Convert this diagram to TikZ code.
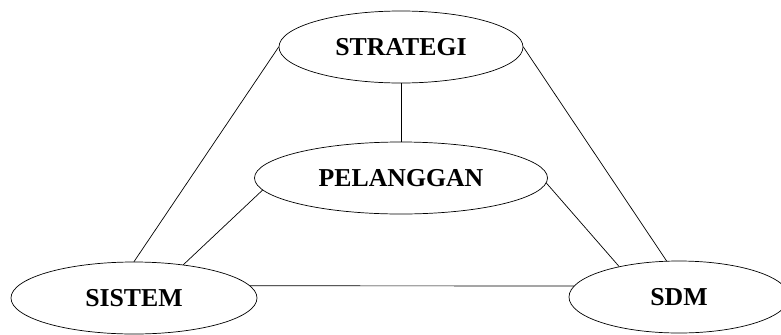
\documentclass[tikz,border=0pt]{standalone}
\usepackage{fontspec}
\setmainfont{Liberation Serif}
\usetikzlibrary{shapes.geometric}

\begin{document}
\begin{tikzpicture}
		[x=0.3mm,y=-0.3mm,line cap=round,
		%Styles
		main node/.style={ellipse,draw,line width=0.6pt,inner sep=0pt,minimum height=21.6mm,
			font=\fontsize{22}{26}\selectfont\bfseries},
		link/.style={line width=0.6pt}
		]
		\useasboundingbox (0,0) rectangle (781,334);
		
		%The graphic
		\node[main node,minimum width=73.2mm] (strategi) at (401, 47) {STRATEGI};
		\node[main node,minimum width=87.9mm] (pelanggan) at (401, 178) {PELANGGAN};
		\node[main node,minimum width=73.8mm] (sistem) at (134, 298) {SISTEM};
		\node[main node,minimum width=66mm] (sdm) at (679, 297) {SDM};
		
		\path[link]
			(strategi) edge (pelanggan)
			(strategi.west) edge (sistem.north)
			(strategi.east) edge (sdm.109)
			(pelanggan.185) edge (sistem.34)
			(pelanggan.-2) edge (sdm.153)
			(sistem.6) edge (sdm.174);
	\end{tikzpicture}
\end{document}
